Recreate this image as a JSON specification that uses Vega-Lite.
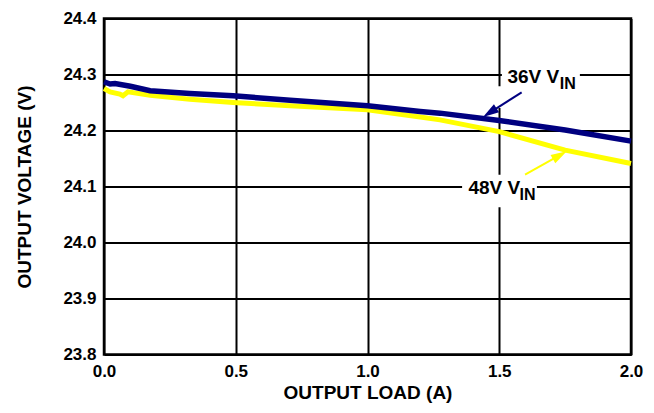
{
  "$schema": "https://vega.github.io/schema/vega-lite/v6.json",
  "width": 527,
  "height": 336,
  "autosize": {"type": "none"},
  "padding": {"left": 104, "top": 18.5, "right": 23, "bottom": 58.5},
  "background": "white",
  "config": {
    "font": "Liberation Sans",
    "view": {"stroke": "#000", "strokeWidth": 2.5},
    "axis": {
      "grid": true,
      "gridColor": "#000",
      "gridWidth": 2,
      "gridOpacity": 1,
      "domain": false,
      "ticks": false,
      "labelFlush": false,
      "labelFont": "Liberation Sans",
      "labelFontWeight": "bold",
      "labelFontSize": 17,
      "labelColor": "#000",
      "titleFont": "Liberation Sans",
      "titleFontWeight": "bold",
      "titleFontSize": 19,
      "titleColor": "#000"
    },
    "text": {"font": "Liberation Sans", "fontWeight": "bold", "color": "#000", "align": "left", "baseline": "alphabetic"}
  },
  "datasets": {
    "v36": [
      {"load": 0.0, "voltage": 24.287},
      {"load": 0.023, "voltage": 24.283},
      {"load": 0.042, "voltage": 24.284},
      {"load": 0.1, "voltage": 24.279},
      {"load": 0.175, "voltage": 24.271},
      {"load": 0.326, "voltage": 24.266},
      {"load": 0.49, "voltage": 24.262},
      {"load": 0.706, "voltage": 24.254},
      {"load": 1.0, "voltage": 24.244},
      {"load": 1.2, "voltage": 24.234},
      {"load": 1.275, "voltage": 24.231},
      {"load": 1.5, "voltage": 24.218},
      {"load": 1.75, "voltage": 24.201},
      {"load": 2.0, "voltage": 24.181}
    ],
    "v48": [
      {"load": 0.0, "voltage": 24.275},
      {"load": 0.023, "voltage": 24.269},
      {"load": 0.06, "voltage": 24.265},
      {"load": 0.072, "voltage": 24.262},
      {"load": 0.091, "voltage": 24.269},
      {"load": 0.175, "voltage": 24.263},
      {"load": 0.326, "voltage": 24.256},
      {"load": 0.49, "voltage": 24.25},
      {"load": 0.706, "voltage": 24.244},
      {"load": 1.0, "voltage": 24.237},
      {"load": 1.2, "voltage": 24.224},
      {"load": 1.275, "voltage": 24.219},
      {"load": 1.5, "voltage": 24.198},
      {"load": 1.75, "voltage": 24.165},
      {"load": 2.0, "voltage": 24.141}
    ],
    "boxes": [
      {"load": 1.51, "load2": 1.806, "voltage": 24.322, "voltage2": 24.254},
      {"load": 1.48, "load2": 1.514, "voltage": 24.279, "voltage2": 24.24},
      {"load": 1.359, "load2": 1.643, "voltage": 24.121, "voltage2": 24.063}
    ],
    "arrow36": [{"load": 1.585, "voltage": 24.268, "load2": 1.464, "voltage2": 24.232}],
    "arrow48": [{"load": 1.598, "voltage": 24.121, "load2": 1.73, "voltage2": 24.156}],
    "head36": [{"load": 1.464, "voltage": 24.232}],
    "head48": [{"load": 1.73, "voltage": 24.156}],
    "labels": [
      {"load": 1.531, "voltage": 24.284, "label": "36V V"},
      {"load": 1.383, "voltage": 24.087, "label": "48V V"}
    ],
    "subs": [
      {"load": 1.73, "voltage": 24.275, "label": "IN"},
      {"load": 1.577, "voltage": 24.076, "label": "IN"}
    ]
  },
  "encoding": {
    "x": {
      "field": "load",
      "type": "quantitative",
      "scale": {"domain": [0, 2], "nice": false, "zero": false},
      "axis": {
        "title": "OUTPUT LOAD (A)",
        "values": [0, 0.5, 1, 1.5, 2],
        "format": ".1f",
        "labelPadding": 9,
        "titlePadding": 4
      }
    },
    "y": {
      "field": "voltage",
      "type": "quantitative",
      "scale": {"domain": [23.8, 24.4], "nice": false, "zero": false},
      "axis": {
        "title": "OUTPUT VOLTAGE (V)",
        "values": [23.8, 23.9, 24.0, 24.1, 24.2, 24.3, 24.4],
        "format": ".1f",
        "labelPadding": 8,
        "titlePadding": 28
      }
    }
  },
  "layer": [
    {
      "data": {"name": "v48"},
      "mark": {"type": "line", "color": "#ffff00", "strokeWidth": 5}
    },
    {
      "data": {"name": "v36"},
      "mark": {"type": "line", "color": "#000080", "strokeWidth": 5.5}
    },
    {
      "data": {"name": "boxes"},
      "mark": {"type": "rect", "color": "white"},
      "encoding": {
        "x2": {"field": "load2"},
        "y2": {"field": "voltage2"}
      }
    },
    {
      "data": {"name": "arrow36"},
      "mark": {"type": "rule", "color": "#000080", "strokeWidth": 2},
      "encoding": {
        "x2": {"field": "load2"},
        "y2": {"field": "voltage2"}
      }
    },
    {
      "data": {"name": "arrow48"},
      "mark": {"type": "rule", "color": "#ffff00", "strokeWidth": 2},
      "encoding": {
        "x2": {"field": "load2"},
        "y2": {"field": "voltage2"}
      }
    },
    {
      "data": {"name": "head36"},
      "mark": {"type": "point", "shape": "M0,-1L0.6,1L-0.6,1Z", "size": 256, "angle": 237.5, "filled": true, "opacity": 1, "color": "#000080"}
    },
    {
      "data": {"name": "head48"},
      "mark": {"type": "point", "shape": "M0,-1L0.6,1L-0.6,1Z", "size": 256, "angle": 60, "filled": true, "opacity": 1, "color": "#ffff00"}
    },
    {
      "data": {"name": "labels"},
      "mark": {"type": "text", "fontSize": 19},
      "encoding": {"text": {"field": "label"}}
    },
    {
      "data": {"name": "subs"},
      "mark": {"type": "text", "fontSize": 16},
      "encoding": {"text": {"field": "label"}}
    }
  ]
}
